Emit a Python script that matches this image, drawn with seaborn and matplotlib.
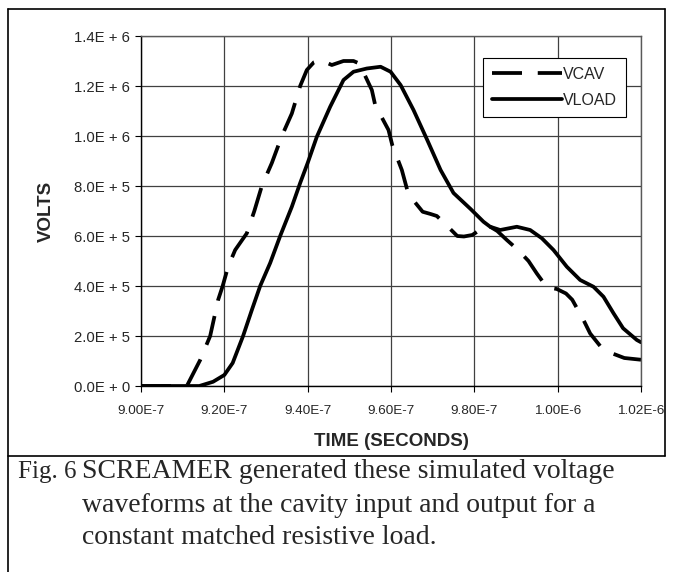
import matplotlib
matplotlib.use('Agg')

import matplotlib.pyplot as plt
import matplotlib.lines as mlines
import seaborn as sns
import pandas as pd

sns.set_style('white')
plt.rcParams['font.family'] = ['Liberation Sans', 'DejaVu Sans']

# time in ns, volts
vcav_t = [900, 911, 914.2, 916.6, 918.5, 919.6, 920.9, 922.6, 925.4, 927.2, 929,
          931.4, 933.8, 936.2, 938.2, 939.8, 941.5, 943, 945.8, 948.6, 951, 952.4,
          955.4, 956.2, 959.4, 960.3, 962.6, 963.9, 965.5, 967.6, 969.5, 971,
          973.5, 975.9, 977.5, 979.5, 983.1, 985.5, 987.8, 990.5, 993, 995, 997.4,
          999.8, 1002, 1003.5, 1006.2, 1007.8, 1010.2, 1013, 1016, 1020]
vcav_v = [0, 0, 104000, 200000, 344000, 400000, 477000, 544000, 611000, 700000,
          800000, 892000, 1000000, 1090000, 1200000, 1264000, 1295000, 1304000,
          1284000, 1300000, 1300000, 1290000, 1184000, 1124000, 1024000, 964000,
          864000, 784000, 740000, 697000, 688000, 680000, 640000, 600000, 598000,
          604000, 644000, 620000, 584000, 544000, 500000, 450000, 395000, 388000,
          370000, 345000, 264000, 210000, 160000, 131000, 112000, 105000]

vload_t = [900, 914, 917.3, 920, 922, 924.5, 926.6, 928.6, 931, 933.4, 936.2,
           938.2, 940, 942.2, 945.4, 948.6, 951, 954.2, 957.5, 959.9, 962.3,
           965.4, 968.7, 971.9, 975, 979.1, 982.2, 983.8, 986.2, 990.2, 993.4,
           996.2, 999, 1002.2, 1005.4, 1008.6, 1011, 1013.4, 1015.7, 1019, 1020]
vload_v = [0, 0, 17000, 44000, 92000, 200000, 304000, 400000, 492000, 600000,
           717000, 812000, 892000, 997000, 1117000, 1224000, 1257000, 1270000,
           1277000, 1257000, 1204000, 1104000, 984000, 864000, 772000, 708000,
           657000, 637000, 624000, 637000, 624000, 591000, 544000, 477000,
           424000, 397000, 357000, 291000, 231000, 184000, 175000]

x_ticks_ns = [900, 920, 940, 960, 980, 1000, 1020]
x_tick_labels = ['9.00E-7', '9.20E-7', '9.40E-7', '9.60E-7', '9.80E-7', '1.00E-6', '1.02E-6']
y_ticks = [0, 200000, 400000, 600000, 800000, 1000000, 1200000, 1400000]
y_tick_labels = ['0.0E + 0', '2.0E + 5', '4.0E + 5', '6.0E + 5', '8.0E + 5',
                 '1.0E + 6', '1.2E + 6', '1.4E + 6']

df = pd.concat([
    pd.DataFrame({'time': [t * 1e-9 for t in vcav_t], 'volts': vcav_v, 'series': 'VCAV'}),
    pd.DataFrame({'time': [t * 1e-9 for t in vload_t], 'volts': vload_v, 'series': 'VLOAD'}),
])

fig = plt.figure(figsize=(6.75, 5.72), dpi=100)
ax = fig.add_axes([141 / 675, 1 - 386 / 572, 500 / 675, 350 / 572])

lw = 2.7
dash = (8, 4.2)
sns.lineplot(data=df, x='time', y='volts', style='series',
             dashes={'VCAV': dash, 'VLOAD': ''}, color='black',
             linewidth=lw, sort=False, ax=ax, legend=False)

ax.set_xlim(900e-9, 1020e-9)
ax.set_ylim(0, 1400000)
ax.set_xticks([t * 1e-9 for t in x_ticks_ns])
ax.set_xticklabels(x_tick_labels, fontsize=9.7)
ax.set_yticks(y_ticks)
ax.set_yticklabels(y_tick_labels, fontsize=10.7)
ax.tick_params(axis='both', direction='out', length=4, width=0.8, color='black',
               left=True, bottom=True, pad=4)
ax.tick_params(axis='x', pad=10)
ax.grid(True, color='0.25', linewidth=0.9)
for side in ['left', 'bottom']:
    ax.spines[side].set_color('black')
    ax.spines[side].set_linewidth(1.0)
for side in ['top', 'right']:
    ax.spines[side].set_color('0.35')
    ax.spines[side].set_linewidth(1.0)

ax.set_xlabel('TIME (SECONDS)', fontsize=13.5, fontweight='heavy', va='center')
ax.xaxis.set_label_coords(0.5, -0.16)
ax.set_ylabel('VOLTS', fontsize=13.5, fontweight='heavy', va='center')
ax.yaxis.set_label_coords(-0.19, 0.5)

h1 = mlines.Line2D([], [], color='black', linewidth=lw, dashes=dash)
h2 = mlines.Line2D([], [], color='black', linewidth=lw)
leg = ax.legend([h1, h2], ['VCAV', 'VLOAD'], loc='upper right',
                bbox_to_anchor=(0.97, 0.937), borderaxespad=0, fontsize=11.5,
                handlelength=4.4, handletextpad=0.05, fancybox=False,
                framealpha=1, edgecolor='black', borderpad=0.55, labelspacing=0.7)
leg.get_frame().set_linewidth(0.8)

# outer frame of the figure box and the page column line
fig.add_artist(mlines.Line2D([8 / 675, 665 / 675], [1 - 9 / 572, 1 - 9 / 572], color='black', linewidth=1.2))
fig.add_artist(mlines.Line2D([665 / 675, 665 / 675], [1 - 9 / 572, 1 - 456 / 572], color='black', linewidth=1.2))
fig.add_artist(mlines.Line2D([8 / 675, 665 / 675], [1 - 456 / 572, 1 - 456 / 572], color='black', linewidth=1.2))
fig.add_artist(mlines.Line2D([8 / 675, 8 / 675], [1 - 9 / 572, 0], color='black', linewidth=1.2))

cap_font = ['Liberation Serif', 'DejaVu Serif']
cap_size = 20
fig.text(18 / 675, 1 - 472 / 572, 'Fig. 6', family=cap_font, fontsize=18,
         va='center', ha='left')
fig.text(82 / 675, 1 - 472 / 572, 'SCREAMER generated these simulated voltage',
         family=cap_font, fontsize=cap_size, va='center', ha='left')
fig.text(82 / 675, 1 - 505 / 572, 'waveforms at the cavity input and output for a',
         family=cap_font, fontsize=cap_size, va='center', ha='left')
fig.text(82 / 675, 1 - 538 / 572, 'constant matched resistive load.',
         family=cap_font, fontsize=cap_size, va='center', ha='left')

fig.savefig('out.png', dpi=100)
